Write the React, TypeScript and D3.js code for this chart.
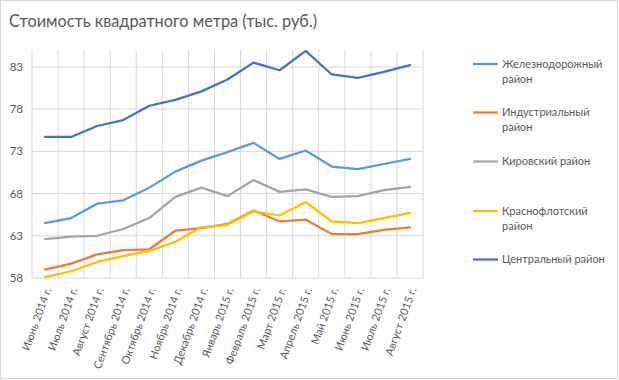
import React from "react";
import * as d3 from "d3";

const categories = [
  "Июнь 2014 г.", "Июль 2014 г.", "Август 2014 г.", "Сентябрь 2014 г.", "Октябрь 2014 г.",
  "Ноябрь 2014 г.", "Декабрь 2014 г.", "Январь 2015 г.", "Февраль 2015 г.", "Март 2015 г.",
  "Апрель 2015 г.", "Май 2015 г.", "Июнь 2015 г.", "Июль 2015 г.", "Август 2015 г.",
];
const zheleznodorozhny = [64.5, 65.1, 66.8, 67.2, 68.7, 70.6, 71.9, 72.9, 74.0, 72.1, 73.1, 71.2, 70.9, 71.5, 72.1];
const industrialny = [59.0, 59.7, 60.8, 61.3, 61.4, 63.6, 63.9, 64.4, 66.0, 64.7, 64.9, 63.2, 63.2, 63.7, 64.0];
const kirovsky = [62.6, 62.9, 63.0, 63.8, 65.1, 67.6, 68.7, 67.7, 69.6, 68.2, 68.5, 67.6, 67.7, 68.4, 68.8];
const krasnoflotsky = [58.1, 58.8, 59.9, 60.6, 61.2, 62.3, 64.0, 64.3, 65.9, 65.4, 67.0, 64.7, 64.5, 65.1, 65.7];
const centralny = [74.7, 74.7, 76.0, 76.7, 78.4, 79.1, 80.1, 81.5, 83.5, 82.6, 84.9, 82.1, 81.7, 82.4, 83.2];
const seriesNames = ["Железнодорожный район", "Индустриальный район", "Кировский район", "Краснофлотский район", "Центральный район"];
const legendLines = [["Железнодорожный", "район"], ["Индустриальный", "район"], ["Кировский район"], ["Краснофлотский", "район"], ["Центральный район"]];
const seriesValues = [zheleznodorozhny, industrialny, kirovsky, krasnoflotsky, centralny];
const colors = ["#5B9BD5", "#ED7D31", "#A5A5A5", "#FFC000", "#4472C4"];
const yTicks = [58, 63, 68, 73, 78, 83];
const title = "Стоимость квадратного метра (тыс. руб.)";

const W = 619, H = 380;
const plot = { left: 32, right: 423, top: 50, bottom: 278 };
const font = "Lato, 'Open Sans', sans-serif";
const textColor = "#595959";
const gridColor = "#D9D9D9";
const legendY = [64, 112.5, 161.5, 211, 259.5];

export default function App() {
  const x = d3.scaleBand<string>().domain(categories).range([plot.left, plot.right]).padding(0);
  const y = d3.scaleLinear().domain([58, 85]).range([plot.bottom, plot.top]);
  const cx = (c: string) => (x(c) as number) + x.bandwidth() / 2;
  const line = d3.line<number>().x((_, i) => cx(categories[i])).y((v) => y(v));
  const boundaries = [...categories.map((c) => x(c) as number), plot.right];

  return (
    <svg width={W} height={H} style={{ position: "absolute", left: 0, top: 0, background: "#fff" }}>
      <rect x={0.5} y={0.5} width={617} height={378} fill="#fff" stroke={gridColor} />
      <text x={9} y={27} fontFamily={font} fontSize={16.3} fill={textColor}>{title}</text>
      {yTicks.map((t) => (
        <g key={t}>
          <line x1={plot.left} x2={plot.right} y1={y(t)} y2={y(t)} stroke={gridColor} />
          <text x={23} y={y(t)} dy="0.35em" textAnchor="end" fontFamily={font} fontSize={11.5} fill={textColor}>{t}</text>
        </g>
      ))}
      {boundaries.map((b, i) => (
        <line key={i} x1={b} x2={b} y1={plot.top} y2={plot.bottom} stroke={gridColor} />
      ))}
      {seriesValues.map((vals, i) => (
        <path key={seriesNames[i]} d={line(vals) || ""} fill="none" stroke={colors[i]} strokeWidth={2.25} strokeLinejoin="round" strokeLinecap="round" />
      ))}
      {categories.map((c) => (
        <text key={c} transform={`translate(${cx(c) + 3},${plot.bottom + 10}) rotate(-70)`} textAnchor="end" dy="0.35em" fontFamily={font} fontSize={11} fill={textColor}>{c}</text>
      ))}
      {seriesNames.map((n, i) => (
        <g key={n}>
          <line x1={473} x2={498} y1={legendY[i]} y2={legendY[i]} stroke={colors[i]} strokeWidth={2.25} />
          {legendLines[i].map((l, j) => (
            <text key={j} x={502} y={legendY[i] + j * 15} dy="0.35em" fontFamily={font} fontSize={11} fill={textColor}>{l}</text>
          ))}
        </g>
      ))}
    </svg>
  );
}
